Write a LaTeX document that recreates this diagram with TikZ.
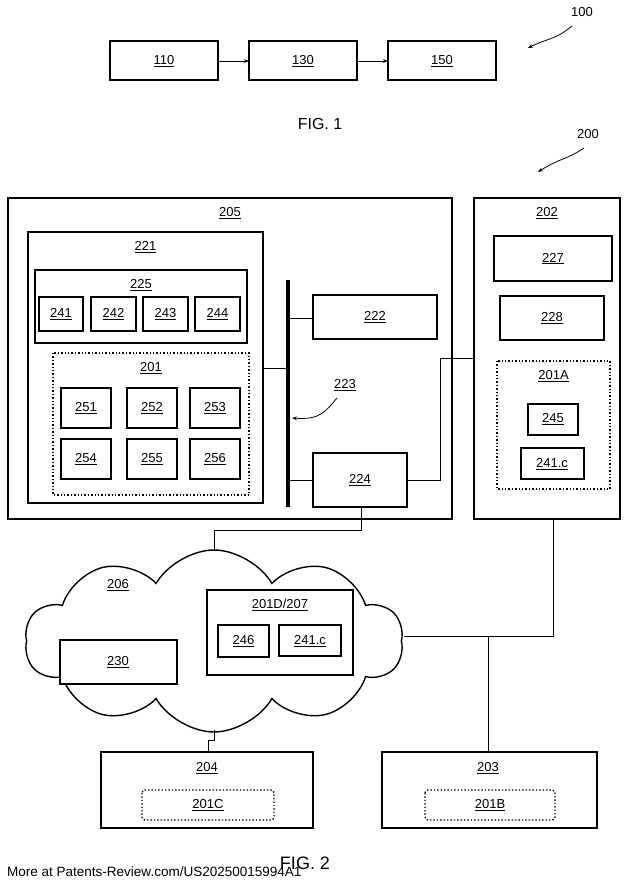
\documentclass[tikz,border=0pt]{standalone}
\usepackage{fontspec}
\setmainfont{Liberation Sans}
\usetikzlibrary{shapes.symbols,arrows.meta}
\begin{document}
\begin{tikzpicture}[x=1pt,y=-1pt,
  box/.style={draw,line width=1.4pt,inner sep=0},
  dbox/.style={draw,line width=1.4pt,dotted,inner sep=0},
  lab/.style={font=\fontsize{13}{14}\selectfont,inner sep=1pt},
  ln/.style={line width=0.8pt}]
\useasboundingbox (0,0) rectangle (640,888);
\newcommand\bx[6]{\draw[#6] (#2,#3) rectangle (#4,#5); \node[lab] (#1) at ({(#2+#4)/2},{(#3+#5)/2}) {\underline{#1}};}
\newcommand\cb[6]{\draw[#6] (#2,#3) rectangle (#4,#5); \node[lab] at ({(#2+#4)/2},#3+15) {\underline{#1}};}
% FIG 1
\draw[box] (110,41) rectangle (218,80); \node[lab] (n110) at (164,61) {\underline{110}};
\draw[box] (249,41) rectangle (357,80); \node[lab] (n130) at (303,61) {\underline{130}};
\draw[box] (388,41) rectangle (496,80); \node[lab] (n150) at (442,61) {\underline{150}};
\draw[ln,-{Stealth[length=5pt]}] (218,61) -- (249,61);
\draw[ln,-{Stealth[length=5pt]}] (357,61) -- (388,61);
\node[lab] (n100) at (582,12) {100};
\draw[ln,-{Stealth[length=5pt]}] (572,26) .. controls (555,40) and (548,38) .. (528,48);
\node[font=\fontsize{16}{18}\selectfont] (f1) at (320,124) {FIG. 1};
\node[lab] (n200) at (588,134) {200};
\draw[ln,-{Stealth[length=5pt]}] (584,148) .. controls (566,160) and (560,158) .. (538,172);
% 205
\cb{205}{8}{198}{452}{519}{box}
\cb{221}{28}{232}{263}{503}{box}
\cb{225}{35}{270}{247}{343}{box}
\bx{241}{39}{297}{83}{331}{box}
\bx{242}{91}{297}{136}{331}{box}
\bx{243}{143}{297}{188}{331}{box}
\bx{244}{195}{297}{240}{331}{box}
\cb{201}{53}{353}{249}{495}{dbox}
\bx{251}{61}{388}{111}{428}{box}
\bx{252}{127}{388}{177}{428}{box}
\bx{253}{190}{388}{240}{428}{box}
\bx{254}{61}{439}{111}{479}{box}
\bx{255}{127}{439}{177}{479}{box}
\bx{256}{190}{439}{240}{479}{box}
\coordinate (bt) at (288,280); \coordinate (bb) at (288,507);
\draw[line width=4.5pt] (bt) -- (bb);
\bx{222}{313}{295}{437}{339}{box}
\bx{224}{313}{453}{407}{507}{box}
\draw[ln] (288,318) -- (313,318);
\draw[ln] (263,368) -- (288,368);
\draw[ln] (288,480) -- (313,480);
\node[lab] (n223) at (345,385) {\underline{223}};
\draw[ln,-{Stealth[length=5pt]}] (337,398) .. controls (325,412) and (320,420) .. (292,418);
% 202
\cb{202}{474}{198}{620}{519}{box}
\bx{227}{494}{236}{612}{281}{box}
\bx{228}{500}{296}{604}{340}{box}
\cb{201A}{497}{361}{610}{489}{dbox}
\bx{245}{528}{404}{578}{435}{box}
\draw[box] (521,448) rectangle (584,479); \node[lab] (c241a) at (552,464) {\underline{241.c}};
\draw[ln] (407,480) -- (440,480) -- (440,358) -- (474,358);
% cloud
\node[cloud,draw,line width=1.4pt,cloud puffs=10,cloud puff arc=120,aspect=2.1,minimum width=378,minimum height=182,inner sep=0] (cl) at (214,641) {};
\draw[ln] (361,507) -- (361,530) -- (214,530) -- (214,551);
\node[lab] (n206) at (118,585) {\underline{206}};
\draw[box,fill=white] (60,640) rectangle (177,684); \node[lab] (n230) at (118,662) {\underline{230}};
\draw[box,fill=white] (207,590) rectangle (353,675); \node[lab] at (280,605) {\underline{201D/207}};
\bx{246}{218}{625}{269}{657}{box}
\draw[box] (279,625) rectangle (341,656); \node[lab] (c241b) at (310,641) {\underline{241.c}};
\draw[ln] (553,519) -- (553,636) -- (404,636);
\draw[ln] (488,636) -- (488,752);
\draw[ln] (214,730) -- (214,740) -- (208,740) -- (208,752);
% bottom
\draw[box] (101,752) rectangle (313,828); \node[lab] (n204) at (207,768) {\underline{204}};
\draw[dbox,rounded corners=3pt] (142,790) rectangle (274,820); \node[lab] (n201C) at (208,805) {\underline{201C}};
\draw[box] (382,752) rectangle (597,828); \node[lab] (n203) at (488,768) {\underline{203}};
\draw[dbox,rounded corners=3pt] (425,790) rectangle (555,820); \node[lab] (n201B) at (490,805) {\underline{201B}};
\node[font=\fontsize{18}{20}\selectfont] (f2) at (305,863) {FIG. 2};
\node[font=\fontsize{13.5}{15}\selectfont,anchor=west,inner sep=0] (wm) at (7,872) {More at Patents-Review.com/US20250015994A1};
\end{tikzpicture}
\end{document}
